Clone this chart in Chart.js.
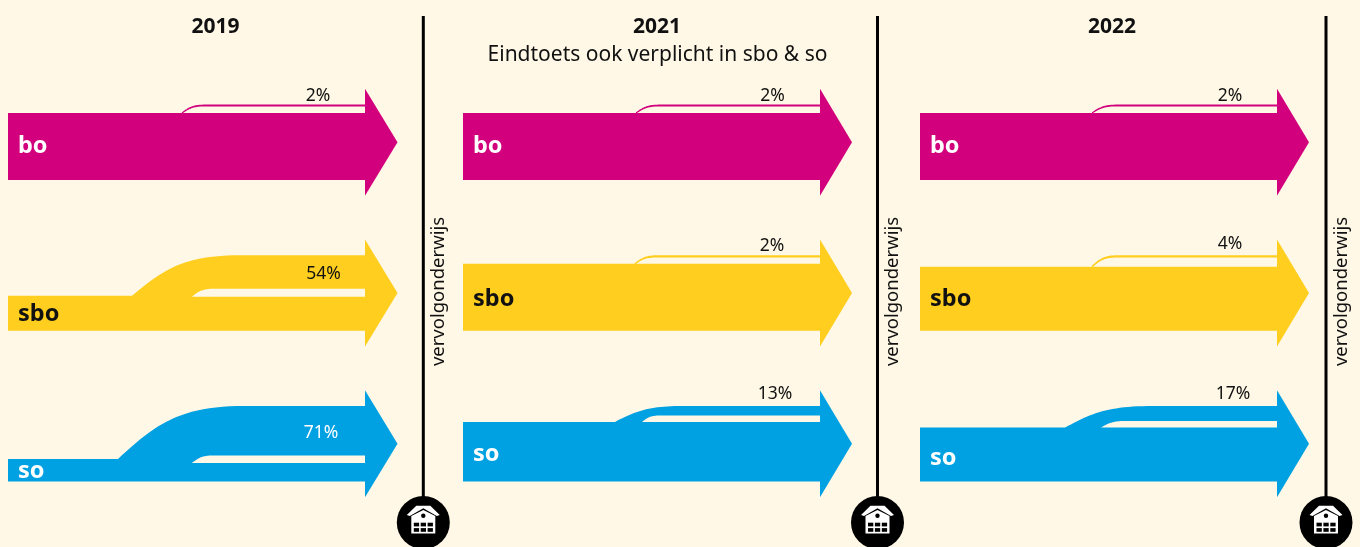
<!DOCTYPE html>
<html><head><meta charset="utf-8">
<script src="https://cdn.jsdelivr.net/npm/chart.js@4/dist/chart.umd.min.js"></script>
<style>html,body{margin:0;padding:0;background:#fff8e6;overflow:hidden}canvas{display:block}</style>
</head><body><canvas id="c" width="1360" height="547"></canvas>
<script>
// ---- data ----
const years = ['2019', '2021', '2022'];
const subtitles = ['', 'Eindtoets ook verplicht in sbo & so', ''];
const groups = ['bo', 'sbo', 'so'];
const axisLabel = 'vervolgonderwijs';
const boShare = [2, 2, 2];
const sboShare = [54, 2, 4];
const soShare = [71, 13, 17];
// drawn band widths: the branch (share that moves on) and the main band
const boBranch = [1.8, 1.8, 1.8];
const sboBranch = [33.5, 2.2, 2.2];
const soBranch = [49.5, 9.5, 15];
const boMain = [67, 67, 67];
const sboMain = [34, 67, 64];
const soMain = [18.5, 59.5, 53.8];
const soLeftBand = [22.5, 59.5, 53.8];
const sboLeftBand = [35, 67, 64];

// ---- layout ----
const BG = '#fff8e6', INK = '#111111';
const colors = ['#d2007d', '#ffce1e', '#00a1e3'];
const labelInk = ['#ffffff', '#111111', '#ffffff'];
const panelX = [8, 463, 920], shaftLen = [357, 357, 357], tipLen = [389.5, 389, 389];
const lineX = [423.3, 877.5, 1326];
const rowC = [142.3, 293, 443.7], HALF = 37.7, HEAD = 53.5;
const outerStart = [[173, 124, 110], [172, 171, 152], [171, 171, 145]];
const outerEnd = [[197, 232, 237], [197, 194, 220], [197, 197, 233]];
const innerStart = [[175, 184, 184], [174, 173, 179], [173, 173, 181]];
const innerEnd = [[197, 205, 205], [197, 194, 197], [197, 197, 205]];
const pctPos = [[[318, 96], [323.5, 274], [321, 433]], [[772.5, 96], [772, 246], [775, 394]], [[1230, 96], [1230, 244], [1233, 394]]];
const rowLabelY = [[146, 314, 471], [146, 299, 454], [146, 299, 458]];

const shares = [boShare, sboShare, soShare];
const branches = [boBranch, sboBranch, soBranch];
const mains = [boMain, sboMain, soMain];
const lefts = [boMain, sboLeftBand, soLeftBand];

function bez(p0, p1, p2, p3) {
  const out = [];
  for (let i = 0; i <= 24; i++) {
    const t = i / 24, u = 1 - t;
    out.push({
      x: u*u*u*p0.x + 3*u*u*t*p1.x + 3*u*t*t*p2.x + t*t*t*p3.x,
      y: u*u*u*p0.y + 3*u*u*t*p1.y + 3*u*t*t*p2.y + t*t*t*p3.y
    });
  }
  return out;
}
function rise(x0, y0, x1, y1) {
  const w = x1 - x0, h = y0 - y1;
  return bez({x:x0,y:y0}, {x:x0+w*.3,y:y0-h*.67}, {x:x0+w*.49,y:y1}, {x:x1,y:y1});
}
const datasets = [];
function shape(points, color) {
  datasets.push({type:'line', data:points, backgroundColor:color, borderColor:color, borderWidth:0,
    pointRadius:0, fill:'shape', tension:0, clip:false});
}
years.forEach((_, p) => {
  const x0 = panelX[p], end = x0 + shaftLen[p], tip = x0 + tipLen[p];
  groups.forEach((_, r) => {
    const c = rowC[r], top = c - HALF, bot = c + HALF;
    const gapTop = top + branches[r][p], gapBot = bot - mains[r][p], leftTop = bot - lefts[r][p];
    const outer = rise(x0 + outerStart[p][r], leftTop, x0 + outerEnd[p][r], top);
    const inner = rise(x0 + innerStart[p][r], gapBot, x0 + innerEnd[p][r], gapTop);
    const pts = [{x:x0,y:bot},{x:x0,y:leftTop},...outer,{x:end,y:top},{x:end,y:gapTop},
      ...inner.slice().reverse(),{x:end,y:gapBot},{x:end,y:bot},{x:x0,y:bot}];
    shape(pts, colors[r]);
    shape([{x:end,y:c-HEAD},{x:tip,y:c},{x:end,y:c+HEAD},{x:end,y:c-HEAD}], colors[r]);
  });
  datasets.push({type:'line', data:[{x:lineX[p],y:16},{x:lineX[p],y:505}], borderColor:'#000', borderWidth:3, pointRadius:0, fill:false});
  datasets.push({type:'scatter', data:[{x:lineX[p],y:522.5}], backgroundColor:'#000', borderWidth:0, pointRadius:26.5, clip:false});
});

function house(ctx, cx, cy) {
  ctx.save(); ctx.translate(cx, cy);
  const poly = (pts, col) => { ctx.fillStyle = col; ctx.beginPath(); pts.forEach((q,i)=> i?ctx.lineTo(q[0],q[1]):ctx.moveTo(q[0],q[1])); ctx.closePath(); ctx.fill(); };
  poly([[-16.5,-7.5],[-7,-16.8],[7,-16.8],[16.5,-7.5],[13.5,-6.5],[0,-14.3],[-13.5,-6.5]], '#fff');
  poly([[-12,-6.5],[0,-12.5],[12,-6.5],[12,11],[-12,11]], '#fff');
  ctx.fillStyle = '#000';
  ctx.beginPath(); ctx.arc(0,-6.8,2.2,0,Math.PI*2); ctx.fill();
  for (let i=0;i<3;i++) for (let j=0;j<2;j++) ctx.fillRect(-9.5+i*6.9,0.2+j*5.4,5.3,3.7);
  ctx.restore();
}

const textPlugin = {
  id:'texts',
  afterDatasetsDraw(chart) {
    const {ctx, scales:{x,y}} = chart;
    const put = (s, px, py, font, col, align='center') => {
      ctx.font = font; ctx.fillStyle = col; ctx.textAlign = align; ctx.textBaseline = 'middle';
      ctx.fillText(s, x.getPixelForValue(px), y.getPixelForValue(py));
    };
    const SANS = '"Noto Sans"';
    const titleX = [215.5, 657, 1112];
    years.forEach((yr, p) => {
      put(yr, titleX[p], 27, `700 21px ${SANS}`, INK);
      if (subtitles[p]) put(subtitles[p], titleX[p] + 0.5, 55, `400 21px ${SANS}`, INK);
      groups.forEach((g, r) => {
        put(g, panelX[p] + 10, rowLabelY[p][r], `700 23.5px ${SANS}`, labelInk[r], 'left');
        const pc = pctPos[p][r];
        const white = p === 0 && r === 2;
        put(shares[r][p] + '%', pc[0], pc[1], `400 17.5px ${SANS}`, white ? '#fff' : INK);
      });
      ctx.save();
      ctx.translate(x.getPixelForValue(lineX[p] + 15.5), y.getPixelForValue(291.5));
      ctx.rotate(-Math.PI/2);
      ctx.font = `400 18.5px ${SANS}`; ctx.fillStyle = INK; ctx.textAlign='center'; ctx.textBaseline='middle';
      ctx.fillText(axisLabel, 0, 0);
      ctx.restore();
      house(ctx, x.getPixelForValue(lineX[p]), y.getPixelForValue(522.5));
    });
  }
};
const bgPlugin = { id:'bg', beforeDraw(chart){ const {ctx,width,height}=chart; ctx.save(); ctx.fillStyle=BG; ctx.fillRect(0,0,width,height); ctx.restore(); } };

new Chart(document.getElementById('c'), {
  data:{datasets},
  options:{
    responsive:false, animation:false, layout:{padding:0, autoPadding:false},
    plugins:{legend:{display:false}, tooltip:{enabled:false}, title:{display:false}},
    scales:{
      x:{type:'linear', min:0, max:1360, display:false},
      y:{type:'linear', min:0, max:547, reverse:true, display:false}
    }
  },
  plugins:[bgPlugin, textPlugin]
});
</script></body></html>
